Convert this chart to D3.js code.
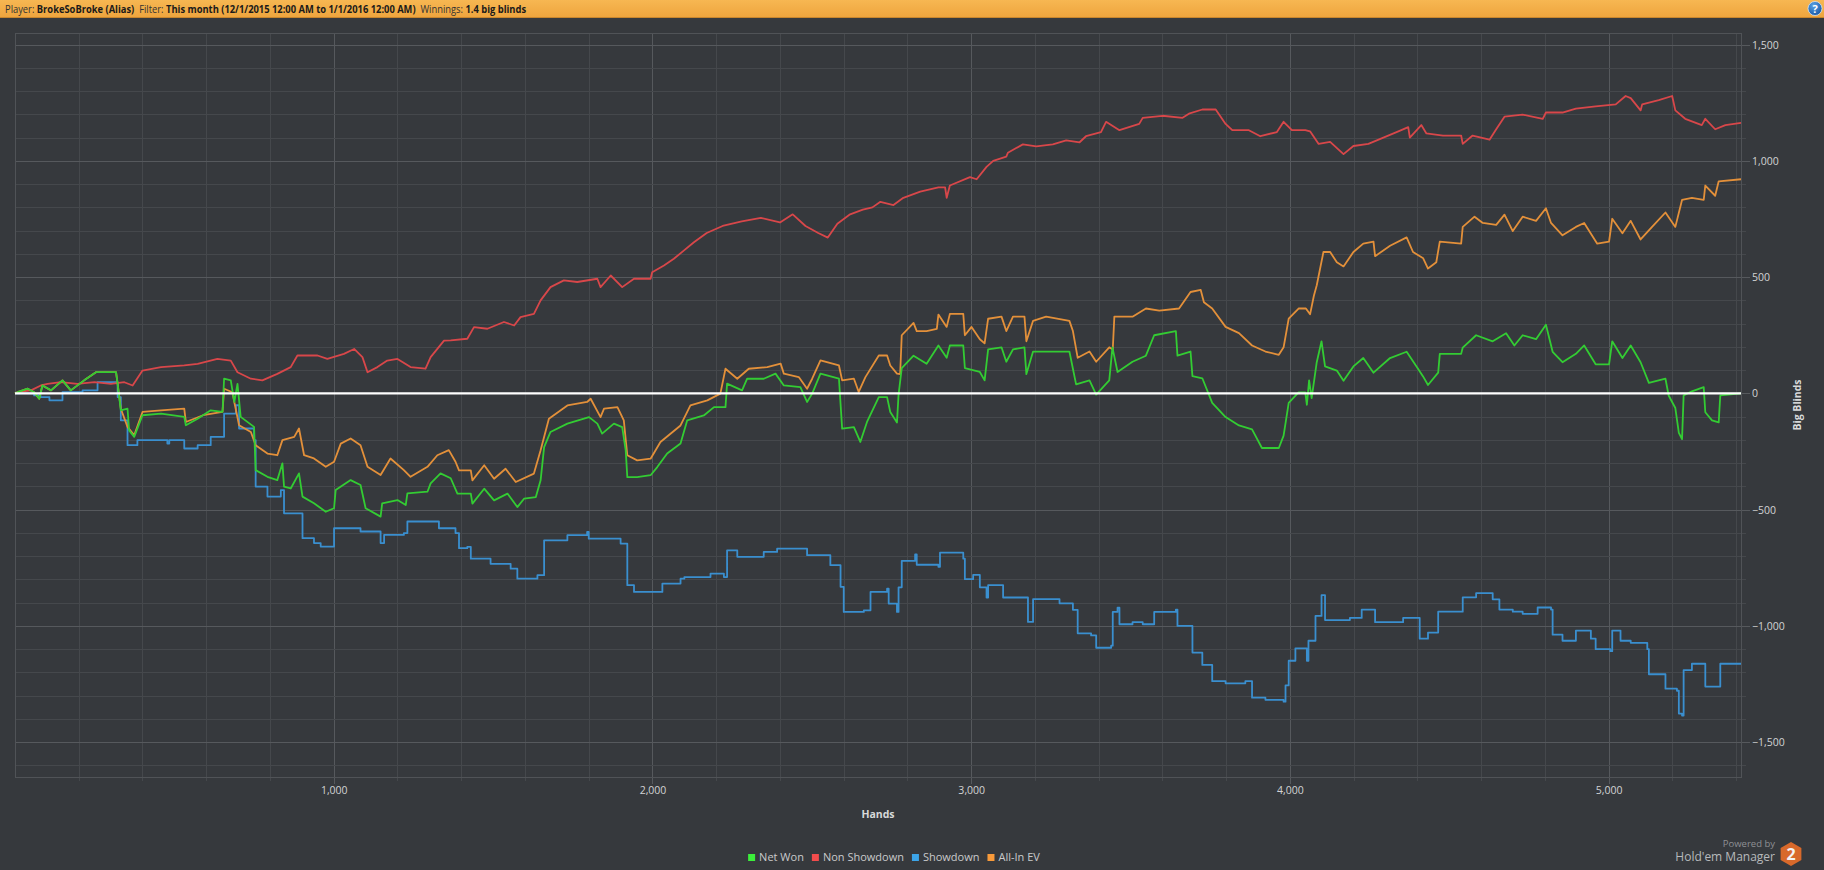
<!DOCTYPE html>
<html>
<head>
<meta charset="utf-8">
<script src="https://cdn.jsdelivr.net/npm/d3@7"></script>
<style>
  html, body { margin: 0; padding: 0; background: #36393d; overflow: hidden; }
  text { font-family: "Open Sans", "DejaVu Sans", sans-serif; }
</style>
</head>
<body>
<div id="graph"></div>
<script>
var w = 1824, h = 870;

// header bits
var headerParts = [
  ["Player: ", false], ["BrokeSoBroke (Alias)", true],
  ["  Filter: ", false], ["This month (12/1/2015 12:00 AM to 1/1/2016 12:00 AM)", true],
  ["  Winnings: ", false], ["1.4 big blinds", true]
];

var seriesNames = ["Net Won", "Non Showdown", "Showdown", "All-In EV"];
var lineColors = ["#33cc33", "#d8474a", "#3a8fcf", "#e3903a"];
var legendColors = ["#3bef3b", "#f24c4c", "#3ca4e8", "#f89a3a"];

var xMajor = [1000, 2000, 3000, 4000, 5000];
var yMajor = [-1500, -1000, -500, 0, 500, 1000, 1500];

// [hand, big blinds]
var netWon = [[0,0],[8,5],[40,20],[60,5],[76,-23],[86,34],[113,13],[149,56],[175,13],[217,56],[254,91],[280,91],[317,91],[322,41],[332,-73],[353,-66],[358,-159],[374,-187],[400,-94],[458,-87],[531,-101],[536,-137],[573,-109],[614,-73],[651,-80],[656,63],[677,56],[688,-37],[698,41],[708,-101],[750,-144],[755,-330],[792,-359],[823,-373],[839,-301],[844,-401],[865,-409],[891,-344],[902,-444],[938,-473],[975,-509],[1001,-494],[1006,-416],[1053,-373],[1084,-394],[1100,-494],[1147,-530],[1152,-473],[1200,-459],[1226,-480],[1231,-430],[1294,-423],[1304,-387],[1335,-344],[1367,-365],[1388,-431],[1430,-431],[1435,-474],[1472,-410],[1503,-460],[1545,-431],[1576,-489],[1597,-453],[1634,-446],[1649,-374],[1660,-231],[1680,-166],[1733,-130],[1785,-109],[1801,-102],[1827,-130],[1842,-173],[1879,-130],[1905,-145],[1916,-245],[1921,-360],[1952,-360],[1994,-352],[2015,-317],[2046,-259],[2088,-216],[2109,-116],[2161,-95],[2193,-59],[2229,-59],[2234,42],[2281,13],[2297,63],[2349,63],[2386,85],[2412,34],[2464,27],[2485,-37],[2501,-1],[2527,85],[2585,63],[2595,-152],[2632,-145],[2652,-209],[2673,-123],[2710,-16],[2736,-16],[2746,-80],[2767,-125],[2772,-5],[2782,109],[2819,162],[2860,127],[2897,206],[2923,153],[2933,206],[2975,206],[2980,109],[3027,92],[3042,56],[3053,189],[3095,198],[3110,136],[3131,189],[3167,198],[3173,83],[3194,180],[3308,180],[3329,39],[3371,56],[3392,-5],[3433,56],[3443,198],[3459,92],[3506,136],[3548,162],[3574,250],[3642,268],[3647,162],[3688,180],[3694,74],[3725,65],[3756,-41],[3798,-102],[3840,-138],[3881,-155],[3912,-235],[3965,-235],[3980,-182],[3996,-41],[4027,4],[4048,4],[4053,-49],[4060,56],[4068,-20],[4084,134],[4099,224],[4110,116],[4147,98],[4168,54],[4199,116],[4230,152],[4262,89],[4314,152],[4366,179],[4397,116],[4418,72],[4433,36],[4465,89],[4470,170],[4537,170],[4542,197],[4584,250],[4636,224],[4678,259],[4704,206],[4730,250],[4772,233],[4803,295],[4824,179],[4855,134],[4897,170],[4923,206],[4959,125],[5001,125],[5011,224],[5043,152],[5069,206],[5100,134],[5126,45],[5178,63],[5188,-9],[5209,-63],[5220,-170],[5230,-197],[5235,-9],[5261,9],[5298,27],[5303,-81],[5324,-116],[5345,-125],[5350,-9],[5415,0]];

var nonShowdown = [[0,0],[8,5],[50,13],[81,34],[102,41],[144,48],[196,41],[249,48],[301,41],[343,48],[369,34],[400,98],[458,113],[531,120],[573,127],[635,148],[677,141],[698,91],[740,63],[776,56],[823,84],[865,113],[886,163],[949,163],[980,148],[1032,170],[1064,191],[1090,156],[1106,91],[1137,113],[1168,141],[1200,148],[1241,113],[1288,106],[1304,156],[1346,227],[1367,228],[1419,235],[1440,285],[1482,278],[1534,307],[1566,292],[1586,328],[1628,342],[1649,400],[1680,457],[1722,486],[1764,479],[1827,493],[1837,457],[1869,507],[1905,457],[1942,493],[1994,493],[1999,521],[2036,550],[2067,579],[2099,615],[2130,650],[2170,690],[2220,720],[2280,740],[2340,755],[2400,735],[2440,770],[2480,720],[2520,690],[2550,670],[2580,730],[2620,770],[2660,790],[2690,800],[2715,824],[2756,810],[2787,841],[2840,868],[2897,886],[2918,886],[2923,841],[2933,894],[2996,930],[3017,921],[3048,974],[3069,1000],[3110,1018],[3115,1035],[3162,1071],[3204,1062],[3256,1071],[3298,1088],[3340,1080],[3360,1106],[3407,1124],[3423,1168],[3465,1132],[3527,1159],[3538,1185],[3600,1194],[3663,1185],[3683,1203],[3725,1221],[3767,1221],[3798,1159],[3819,1132],[3871,1132],[3907,1106],[3959,1124],[3980,1168],[4006,1132],[4048,1132],[4063,1127],[4090,1073],[4126,1082],[4168,1029],[4199,1064],[4246,1073],[4293,1100],[4340,1127],[4371,1145],[4376,1100],[4412,1154],[4428,1118],[4480,1109],[4537,1109],[4542,1073],[4573,1109],[4626,1091],[4647,1136],[4673,1190],[4730,1199],[4793,1181],[4803,1208],[4855,1208],[4897,1225],[4959,1234],[5022,1243],[5053,1279],[5069,1270],[5100,1217],[5105,1243],[5157,1261],[5199,1279],[5209,1217],[5240,1181],[5292,1154],[5303,1181],[5334,1136],[5366,1154],[5415,1163]];

var showdown = [[0,0],[60,-9],[80,-16],[108,-30],[145,-30],[149,5],[212,13],[255,13],[259,48],[311,48],[322,-16],[332,-116],[353,-223],[384,-201],[474,-201],[478,-216],[484,-201],[526,-201],[531,-237],[573,-223],[614,-187],[651,-187],[656,-87],[688,-87],[693,-51],[703,-151],[750,-201],[755,-401],[792,-444],[834,-416],[844,-516],[897,-516],[902,-623],[938,-644],[959,-659],[996,-659],[1001,-580],[1084,-594],[1147,-644],[1158,-609],[1220,-601],[1231,-551],[1330,-580],[1382,-601],[1393,-666],[1419,-660],[1430,-711],[1492,-733],[1555,-754],[1576,-797],[1639,-782],[1655,-782],[1660,-632],[1733,-610],[1795,-596],[1800,-625],[1900,-646],[1921,-825],[1942,-854],[2020,-854],[2031,-818],[2088,-797],[2100,-790],[2182,-775],[2224,-790],[2234,-675],[2266,-703],[2349,-682],[2391,-668],[2485,-696],[2558,-739],[2590,-832],[2600,-940],[2663,-933],[2684,-854],[2736,-840],[2741,-904],[2767,-940],[2772,-834],[2782,-720],[2824,-693],[2829,-737],[2897,-746],[2902,-685],[2975,-711],[2980,-799],[3006,-781],[3027,-834],[3048,-878],[3053,-825],[3100,-878],[3173,-878],[3178,-983],[3194,-885],[3277,-903],[3319,-931],[3334,-1032],[3376,-1041],[3392,-1094],[3439,-1085],[3444,-940],[3459,-922],[3465,-993],[3506,-984],[3538,-993],[3574,-940],[3642,-930],[3647,-1000],[3688,-1000],[3694,-1115],[3725,-1168],[3756,-1238],[3798,-1247],[3860,-1238],[3881,-1309],[3923,-1318],[3980,-1326],[3986,-1256],[3996,-1150],[4017,-1097],[4048,-1097],[4053,-1150],[4058,-1064],[4074,-1064],[4080,-957],[4099,-868],[4110,-975],[4188,-966],[4225,-930],[4262,-930],[4267,-984],[4355,-966],[4392,-966],[4407,-1055],[4433,-1029],[4465,-939],[4537,-939],[4542,-877],[4584,-859],[4636,-886],[4657,-930],[4699,-939],[4730,-948],[4777,-921],[4819,-930],[4824,-1038],[4855,-1064],[4897,-1020],[4944,-1055],[4959,-1100],[5005,-1109],[5011,-1020],[5037,-1064],[5069,-1073],[5121,-1100],[5126,-1208],[5178,-1270],[5214,-1279],[5220,-1377],[5230,-1386],[5235,-1190],[5261,-1163],[5298,-1163],[5303,-1261],[5345,-1261],[5350,-1163],[5415,-1163]];

var allInEV = [[0,0],[8,5],[40,20],[60,5],[76,-23],[86,34],[113,13],[149,56],[175,13],[217,56],[254,91],[280,91],[317,91],[322,41],[332,-66],[353,-144],[374,-180],[400,-80],[458,-73],[531,-66],[536,-123],[590,-94],[651,-80],[656,20],[682,5],[688,-37],[703,-137],[740,-166],[755,-223],[792,-259],[823,-266],[839,-201],[876,-187],[891,-151],[907,-266],[938,-280],[975,-316],[1001,-294],[1022,-216],[1053,-194],[1084,-223],[1106,-316],[1147,-351],[1178,-280],[1220,-330],[1241,-359],[1294,-316],[1325,-266],[1361,-244],[1382,-294],[1393,-331],[1430,-331],[1435,-374],[1472,-309],[1503,-367],[1539,-324],[1571,-381],[1628,-345],[1649,-245],[1675,-109],[1733,-52],[1795,-37],[1806,-23],[1837,-102],[1848,-66],[1890,-59],[1910,-116],[1921,-266],[1952,-288],[1994,-281],[2025,-209],[2088,-138],[2119,-52],[2172,-30],[2213,-1],[2229,106],[2266,63],[2302,106],[2360,113],[2402,128],[2412,85],[2459,70],[2485,20],[2501,63],[2527,142],[2585,120],[2595,56],[2632,63],[2647,6],[2668,70],[2710,163],[2736,163],[2746,120],[2767,85],[2777,83],[2782,250],[2819,303],[2829,268],[2860,268],[2892,277],[2897,339],[2923,286],[2933,342],[2975,342],[2980,250],[3001,286],[3027,233],[3042,215],[3053,321],[3095,330],[3110,268],[3131,330],[3167,330],[3173,224],[3194,312],[3235,330],[3308,312],[3319,268],[3334,153],[3371,180],[3392,136],[3433,198],[3444,189],[3449,330],[3506,330],[3548,365],[3590,356],[3652,365],[3688,436],[3720,445],[3730,392],[3756,365],[3798,286],[3840,259],[3881,206],[3923,180],[3965,166],[3980,198],[3996,321],[4027,365],[4050,365],[4063,340],[4075,420],[4084,465],[4105,608],[4126,608],[4147,564],[4168,546],[4199,608],[4230,644],[4262,653],[4267,590],[4314,635],[4366,671],[4386,608],[4418,581],[4433,537],[4459,564],[4470,653],[4537,644],[4542,716],[4579,760],[4605,733],[4647,725],[4673,769],[4699,698],[4730,760],[4772,742],[4803,796],[4819,733],[4855,680],[4897,716],[4923,733],[4964,644],[5001,653],[5011,751],[5043,689],[5069,742],[5100,662],[5136,716],[5178,778],[5209,716],[5230,832],[5261,841],[5298,832],[5303,894],[5334,850],[5345,912],[5415,921]];

var allSeries = [netWon, nonShowdown, showdown, allInEV];

var svg = d3.select('#graph').append('svg')
  .attr('width', w)
  .attr('height', h);

svg.append('rect').attr('width', w).attr('height', h).attr('fill', '#36393d');

// header bar
var defs = svg.append('defs');
var hg = defs.append('linearGradient').attr('id', 'hdr').attr('x1', 0).attr('y1', 0).attr('x2', 0).attr('y2', 1);
hg.append('stop').attr('offset', '0%').attr('stop-color', '#f7b752');
hg.append('stop').attr('offset', '100%').attr('stop-color', '#eea53e');
var bg = defs.append('radialGradient').attr('id', 'help').attr('cx', '40%').attr('cy', '30%').attr('r', '70%');
bg.append('stop').attr('offset', '0%').attr('stop-color', '#5aa2e6');
bg.append('stop').attr('offset', '100%').attr('stop-color', '#1b5aa6');

svg.append('rect').attr('x', 0).attr('y', 0).attr('width', w).attr('height', 17).attr('fill', 'url(#hdr)');
svg.append('line').attr('x1', 0).attr('x2', w).attr('y1', 17.5).attr('y2', 17.5).attr('stroke', '#c9862d');

// header text, stretched sideways to the width it has in the app
var hgroup = svg.append('g');
var htext = hgroup.append('text').attr('x', 0).attr('y', 0)
  .style('font-size', '10px').attr('fill', '#2b2b2b').attr('xml:space', 'preserve');
htext.selectAll('tspan').data(headerParts).enter().append('tspan')
  .text(function(d) { return d[0]; })
  .attr('font-weight', function(d) { return d[1] ? 'bold' : 'normal'; })
  .attr('fill', function(d) { return d[1] ? '#1a1a1a' : '#333'; });
var natural = htext.node().getComputedTextLength();
hgroup.attr('transform', 'translate(5,12.5) scale(' + (522 / natural) + ',1)');

svg.append('circle').attr('cx', 1815).attr('cy', 8.5).attr('r', 7)
  .attr('fill', 'url(#help)').attr('stroke', '#d6e6f5').attr('stroke-width', 0.8);
svg.append('text').attr('x', 1815).attr('y', 12.5).attr('text-anchor', 'middle')
  .style('font-size', '11px').attr('font-weight', 'bold').attr('fill', '#fff').text('?');

// scales
var x = d3.scaleLinear().domain([0, 5415]).range([15, 1741]);
var y = d3.scaleLinear().domain([-1650, 1550]).range([777, 33]);

var plot = svg.append('g');

// grid lines
var xGrid = d3.range(200, 5415, 200);
var yGrid = d3.range(-1600, 1550, 100);

plot.selectAll('.vgrid').data(xGrid).enter().append('line')
  .attr('class', 'vgrid')
  .attr('x1', function(d) { return Math.round(x(d)) + 0.5; })
  .attr('x2', function(d) { return Math.round(x(d)) + 0.5; })
  .attr('y1', 33)
  .attr('y2', function(d) { return d % 1000 === 0 ? 784 : 781; })
  .attr('stroke', function(d) { return d % 1000 === 0 ? '#56595d' : '#45484c'; });

plot.selectAll('.hgrid').data(yGrid).enter().append('line')
  .attr('class', 'hgrid')
  .attr('y1', function(d) { return Math.round(y(d)) + 0.5; })
  .attr('y2', function(d) { return Math.round(y(d)) + 0.5; })
  .attr('x1', 15)
  .attr('x2', function(d) { return d % 500 === 0 ? 1750 : 1746; })
  .attr('stroke', function(d) { return d % 500 === 0 ? '#56595d' : '#45484c'; });

// frame
plot.append('rect').attr('x', 15.5).attr('y', 33.5).attr('width', 1726).attr('height', 744)
  .attr('fill', 'none').attr('stroke', '#505357');

// axes labels
var xAxis = d3.axisBottom(x).tickValues(xMajor).tickSize(0).tickFormat(d3.format(','));
var gx = svg.append('g').attr('transform', 'translate(0,777)').call(xAxis);
gx.select('.domain').remove();
gx.selectAll('text').attr('y', 17).attr('dy', 0).attr('fill', '#d2d3d4')
  .style('font-size', '10.5px').style('font-family', '"Open Sans", sans-serif');

var yAxis = d3.axisRight(y).tickValues(yMajor).tickSize(0).tickFormat(d3.format(','));
var gy = svg.append('g').attr('transform', 'translate(1741,0)').call(yAxis);
gy.select('.domain').remove();
gy.selectAll('text').attr('x', 11).attr('dy', '0.34em').attr('fill', '#d2d3d4')
  .style('font-size', '10.5px').style('font-family', '"Open Sans", sans-serif');

svg.append('text').attr('x', 878).attr('y', 818).attr('text-anchor', 'middle')
  .style('font-size', '10.5px').attr('font-weight', 'bold').attr('fill', '#d8d9da').text('Hands');

svg.append('text').attr('transform', 'translate(1801,405) rotate(-90)').attr('text-anchor', 'middle')
  .style('font-size', '10.5px').attr('font-weight', 'bold').attr('fill', '#d8d9da').text('Big Blinds');

// series lines (showdown money moves in clean steps)
var line = d3.line()
  .x(function(d) { return x(d[0]); })
  .y(function(d) { return y(d[1]); });
var stepLine = d3.line()
  .curve(d3.curveStepAfter)
  .x(function(d) { return x(d[0]); })
  .y(function(d) { return y(d[1]); });

var drawOrder = [2, 1, 3, 0];
drawOrder.forEach(function(i) {
  plot.append('path')
    .datum(allSeries[i])
    .attr('d', i === 2 ? stepLine : line)
    .attr('fill', 'none')
    .attr('stroke', lineColors[i])
    .attr('stroke-width', 1.8)
    .attr('stroke-linejoin', 'round');
});

// zero line
plot.append('line')
  .attr('x1', x(0)).attr('x2', x(5415))
  .attr('y1', y(0)).attr('y2', y(0))
  .attr('stroke', '#ffffff').attr('stroke-width', 2.2);

// legend
var legend = svg.append('g');
var lx = 0;
var items = legend.selectAll('g').data(seriesNames).enter().append('g');
items.append('rect').attr('width', 7).attr('height', 7).attr('y', -6)
  .attr('fill', function(d, i) { return legendColors[i]; });
items.append('text').attr('x', 11).attr('y', 0.5)
  .style('font-size', '11px').attr('fill', '#c9cacb')
  .text(function(d) { return d; });
items.each(function() {
  var g = d3.select(this);
  g.attr('transform', 'translate(' + lx + ',0)');
  lx += 11 + g.select('text').node().getComputedTextLength() + 8;
});
legend.attr('transform', 'translate(' + (894 - (lx - 8) / 2) + ',860)');

// logo
svg.append('text').attr('x', 1775).attr('y', 847).attr('text-anchor', 'end')
  .style('font-size', '9.5px').attr('fill', '#8e9094').text('Powered by');
svg.append('text').attr('x', 1775).attr('y', 861).attr('text-anchor', 'end')
  .style('font-size', '12px').attr('fill', '#b7b9bc').text("Hold'em Manager");
var hex = d3.range(6).map(function(k) {
  var a = Math.PI / 3 * k - Math.PI / 2;
  return [1791 + 12 * Math.cos(a), 854 + 12 * Math.sin(a)];
});
svg.append('polygon').attr('points', hex.map(function(p) { return p.join(','); }).join(' '))
  .attr('fill', '#d8692b');
svg.append('text').attr('x', 1791).attr('y', 860).attr('text-anchor', 'middle')
  .style('font-size', '16px').attr('font-weight', 'bold').attr('fill', '#f3f3f3').text('2');
</script>
</body>
</html>
